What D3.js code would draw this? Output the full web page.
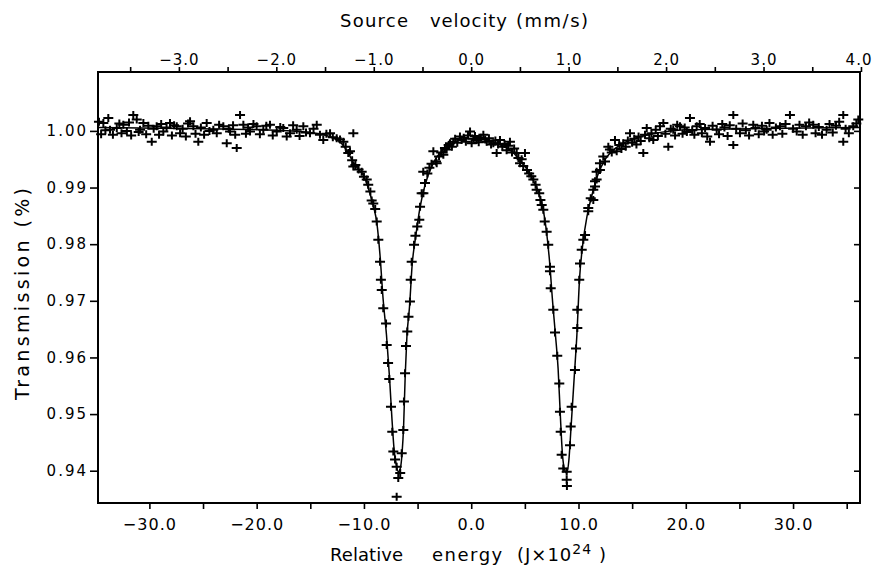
<!DOCTYPE html>
<html lang="en">
<head>
<meta charset="UTF-8">
<title>Transmission vs relative energy</title>
<style>
  body { margin: 0; background: #fff; }
  svg { display: block; font-family: "DejaVu Sans", sans-serif; }
</style>
</head>
<body>
<div id="chart"></div>
<script src="https://cdn.jsdelivr.net/npm/d3@7"></script>
<script>
// axis ticks
const energyTicks = [-30, -25, -20, -15, -10, -5, 0, 5, 10, 15, 20, 25, 30, 35];
const velocityTicks = [-3, -2, -1, 0, 1, 2, 3, 4];
const velocityMinor = [-3.5, -2.5, -1.5, -0.5, 0.5, 1.5, 2.5, 3.5];
const transTicks = [0.94, 0.95, 0.96, 0.97, 0.98, 0.99, 1.00];

const spectrum = [
  [-34.7,1.0016],[-34.5,0.9994],[-34.29,1.0014],[-34.1,1.0001],[-33.83,1.0023],[-33.67,1.0002],[-33.4,0.9993],[-33.04,1.0005],
  [-32.8,1.0013],[-32.6,0.9996],[-32.43,1.0011],[-32.1,1.0000],[-31.9,1.0015],[-31.7,0.9992],[-31.5,1.0028],[-31.18,1.0020],
  [-31.0,0.9998],[-30.87,1.0002],[-30.56,1.0014],[-30.3,0.9994],[-30.1,1.0009],[-29.78,0.9981],[-29.6,1.0004],[-29.32,1.0008],
  [-29.1,0.9993],[-28.9,1.0012],[-28.7,0.9999],[-28.4,1.0006],[-28.08,1.0014],[-27.9,0.9992],[-27.7,1.0010],[-27.45,1.0008],
  [-27.14,0.9996],[-26.9,1.0004],[-26.6,0.9990],[-26.4,1.0013],[-26.21,1.0017],[-25.9,1.0008],[-25.7,0.9995],[-25.44,0.9981],
  [-25.2,1.0006],[-24.9,0.9993],[-24.66,1.0014],[-24.4,1.0000],[-24.04,1.0002],[-23.72,0.9996],[-23.5,1.0011],[-23.11,1.0008],
  [-22.79,0.9978],[-22.6,1.0004],[-22.48,0.9999],[-22.2,1.0010],[-22.0,0.9993],[-21.86,0.9970],[-21.55,1.0028],[-21.24,1.0011],
  [-21.0,0.9995],[-20.8,1.0006],[-20.62,0.9999],[-20.3,1.0012],[-20.0,1.0008],[-19.7,0.9994],[-19.38,1.0002],[-19.1,1.0009],
  [-18.76,1.0011],[-18.5,0.9992],[-18.13,0.9999],[-17.8,1.0007],[-17.52,1.0005],[-17.2,0.9990],[-16.89,0.9996],[-16.6,1.0010],
  [-16.27,1.0002],[-16.0,0.9991],[-15.65,1.0008],[-15.4,0.9997],[-15.03,0.9996],[-14.7,1.0004],[-14.4,1.0011],[-14.1,0.9993],
  [-13.79,0.9984],[-13.5,0.9995],[-13.16,0.9996],[-12.9,0.9989],[-12.54,0.9987],[-12.23,0.9985],[-11.92,0.9981],[-10.99,0.9996],
  [-11.7,0.9972],[-11.46,0.9961],[-11.3,0.9964],[-11.1,0.9948],[-10.99,0.9937],[-10.8,0.9940],[-10.5,0.9932],[-10.21,0.9928],
  [-10.0,0.9919],[-9.74,0.9914],[-9.6,0.9905],[-9.4,0.9893],[-9.28,0.9877],[-9.13,0.9872],[-8.95,0.9862],[-8.81,0.9840],
  [-8.66,0.9808],[-8.50,0.9769],[-8.42,0.9737],[-8.34,0.9719],[-8.20,0.9687],[-7.94,0.9660],[-7.88,0.9622],[-7.75,0.9590],
  [-7.64,0.9562],[-7.48,0.9513],[-7.36,0.9469],[-7.26,0.9434],[-7.10,0.9420],[-6.95,0.9407],[-6.80,0.9387],[-6.95,0.9354],
  [-6.62,0.9396],[-6.48,0.9431],[-6.33,0.9472],[-6.27,0.9522],[-6.17,0.9572],[-6.08,0.9620],[-5.96,0.9646],[-5.85,0.9672],
  [-5.71,0.9699],[-5.64,0.9737],[-5.55,0.9769],[-5.33,0.9799],[-5.20,0.9815],[-5.03,0.9831],[-4.84,0.9843],[-4.77,0.9866],
  [-4.62,0.9890],[-4.46,0.9890],[-4.31,0.9908],[-4.47,0.9928],[-4.09,0.9925],[-3.90,0.9935],[-3.70,0.9942],[-3.53,0.9964],
  [-3.28,0.9946],[-3.22,0.9943],[-3.0,0.9955],[-2.8,0.9962],[-2.6,0.9958],[-2.45,0.9970],[-2.29,0.9967],[-2.1,0.9975],
  [-1.98,0.9978],[-1.8,0.9972],[-1.67,0.9981],[-1.5,0.9986],[-1.3,0.9979],[-1.05,0.9990],[-0.9,0.9984],[-0.7,0.9988],
  [-0.5,0.9981],[-0.3,0.9992],[-0.11,0.9999],[0.04,0.9978],[0.2,0.9986],[0.35,0.9991],[0.51,0.9984],[0.7,0.9980],
  [0.9,0.9988],[1.13,0.9993],[1.3,0.9985],[1.44,0.9981],[1.65,0.9987],[1.85,0.9976],[2.06,0.9978],[2.25,0.9983],
  [2.37,0.9961],[2.5,0.9976],[2.68,0.9984],[2.9,0.9972],[3.1,0.9977],[3.3,0.9966],[3.45,0.9974],[3.61,0.9981],
  [3.8,0.9962],[4.0,0.9969],[4.24,0.9961],[4.4,0.9952],[4.55,0.9943],[4.7,0.9950],[4.85,0.9938],[5.01,0.9961],
  [5.2,0.9931],[5.4,0.9925],[5.6,0.9920],[5.79,0.9914],[6.0,0.9905],[6.10,0.9896],[6.34,0.9890],[6.45,0.9878],
  [6.57,0.9869],[6.72,0.9861],[6.85,0.9840],[7.03,0.9822],[7.18,0.9799],[7.34,0.9760],[7.34,0.9752],[7.41,0.9722],
  [7.65,0.9684],[7.81,0.9644],[8.02,0.9603],[8.21,0.9554],[8.27,0.9504],[8.34,0.9469],[8.43,0.9428],[8.58,0.9404],
  [8.90,0.9398],[8.90,0.9384],[8.92,0.9373],[9.21,0.9445],[9.27,0.9478],[9.36,0.9513],[9.67,0.9578],[9.77,0.9616],
  [9.89,0.9652],[9.89,0.9684],[10.07,0.9737],[10.14,0.9766],[10.30,0.9790],[10.45,0.9808],[10.61,0.9816],[10.91,0.9858],
  [10.91,0.9864],[11.14,0.9881],[11.38,0.9896],[11.38,0.9878],[11.54,0.9911],[11.54,0.9902],[11.69,0.9928],[11.69,0.9914],
  [12.00,0.9943],[12.00,0.9931],[12.31,0.9955],[12.47,0.9946],[12.78,0.9972],[12.93,0.9967],[13.1,0.9962],[13.40,0.9984],
  [13.56,0.9964],[13.8,0.9975],[14.0,0.9968],[14.17,0.9978],[14.4,0.9972],[14.6,0.9983],[14.8,0.9996],[15.0,0.9979],
  [15.2,0.9986],[15.4,0.9976],[15.6,0.9990],[15.8,0.9982],[16.04,0.9961],[16.2,0.9993],[16.36,1.0005],[16.6,0.9987],
  [16.8,0.9996],[16.97,0.9984],[17.2,1.0002],[17.4,0.9991],[17.6,1.0008],[17.91,1.0014],[18.1,0.9995],[18.37,0.9972],
  [18.6,1.0004],[18.83,1.0002],[19.0,0.9992],[19.2,1.0011],[19.46,1.0008],[19.7,0.9995],[19.9,1.0006],[20.1,0.9998],
  [20.39,1.0023],[20.6,1.0001],[20.8,0.9993],[21.02,1.0008],[21.3,1.0012],[21.5,0.9996],[21.8,1.0005],[22.0,0.9990],
  [22.26,0.9981],[22.5,1.0009],[22.88,1.0002],[23.1,0.9994],[23.4,1.0012],[23.6,1.0006],[23.9,0.9991],[24.1,1.0010],
  [24.43,1.0028],[24.43,0.9975],[24.7,1.0004],[25.05,0.9996],[25.3,1.0013],[25.6,1.0001],[25.9,0.9992],[26.29,1.0011],
  [26.5,1.0005],[26.8,0.9994],[27.1,1.0009],[27.3,0.9999],[27.54,1.0002],[27.8,1.0014],[28.1,0.9993],[28.4,1.0006],
  [28.78,1.0008],[29.0,0.9995],[29.3,1.0012],[29.71,1.0028],[30.0,1.0004],[30.34,0.9999],[30.6,1.0011],[30.9,0.9993],
  [31.2,1.0008],[31.5,1.0015],[31.88,1.0011],[32.1,0.9996],[32.4,1.0007],[32.7,0.9993],[33.13,1.0002],[33.4,1.0012],
  [33.7,0.9997],[34.0,1.0009],[34.3,1.0016],[34.68,0.9981],[34.68,1.0028],[34.9,1.0004],[35.2,0.9996],[35.61,1.0008],
  [35.9,1.0013],[36.08,1.0020]
];

// fitted curve
const fitCurve = [
  [-34.79,1.0006],[-25,1.0004],[-18,1.0001],[-15,0.9997],[-13.5,0.9992],[-12.5,0.9984],[-12,0.9976],[-11.5,0.9962],
  [-11,0.9945],[-10.5,0.9932],[-10,0.9920],[-9.5,0.9893],[-9.1,0.9866],[-8.8,0.9838],[-8.5,0.9780],[-8.2,0.9700],
  [-7.9,0.9640],[-7.6,0.9560],[-7.4,0.9495],[-7.2,0.9440],[-7.0,0.9412],[-6.8,0.9398],[-6.6,0.9405],[-6.45,0.9430],
  [-6.3,0.9480],[-6.15,0.9570],[-6.0,0.9635],[-5.75,0.9690],[-5.5,0.9765],[-5.2,0.9810],[-4.8,0.9862],[-4.3,0.9905],
  [-3.5,0.9945],[-2.5,0.9968],[-1.5,0.9980],[-0.5,0.9986],[0.5,0.9987],[1.5,0.9984],[2.5,0.9977],[3.5,0.9968],
  [4.5,0.9950],[5.2,0.9932],[5.8,0.9912],[6.3,0.9890],[6.7,0.9862],[7.0,0.9825],[7.3,0.9770],[7.6,0.9695],
  [7.85,0.9640],[8.1,0.9580],[8.3,0.9500],[8.5,0.9430],[8.7,0.9402],[8.9,0.9396],[9.1,0.9418],[9.3,0.9475],
  [9.6,0.9565],[9.85,0.9640],[10.1,0.9740],[10.4,0.9800],[10.8,0.9850],[11.3,0.9890],[11.8,0.9922],[12.5,0.9950],
  [13.5,0.9970],[15,0.9985],[17,0.9995],[20,1.0002],[36.24,1.0006]
];

const W = 873, H = 568;
const margin = { top: 72, right: 13, bottom: 65, left: 98 };

const x = d3.scaleLinear().domain([-34.79, 36.24]).range([margin.left, W - margin.right]);
const v = d3.scaleLinear().domain([-3.83, 3.99]).range([margin.left, W - margin.right]);
const y = d3.scaleLinear().domain([0.9343, 1.0104]).range([H - margin.bottom, margin.top]);

const svg = d3.select("#chart").append("svg")
    .attr("width", W)
    .attr("height", H);

const fmt1 = d3.format(".1f");

function styleAxis(g, size) {
    g.attr("font-family", "'DejaVu Sans', sans-serif")
        .attr("font-size", size);
    g.select(".domain").remove();
    g.selectAll(".tick line").attr("stroke", "#000").attr("stroke-width", 1.6);
    g.selectAll(".tick text").attr("fill", "#000");
}

// bottom: relative energy
svg.append("g")
    .attr("transform", `translate(0,${H - margin.bottom})`)
    .call(d3.axisBottom(x).tickValues(energyTicks).tickSize(6).tickPadding(10)
        .tickFormat(d => d % 10 === 0 ? fmt1(d) : ""))
    .call(g => styleAxis(g, 16))
    .call(g => g.selectAll(".tick text").style("letter-spacing", "1px"));

// top: source velocity
svg.append("g")
    .attr("transform", `translate(0,${margin.top})`)
    .call(d3.axisTop(v).tickValues(velocityTicks).tickSize(5).tickPadding(2).tickFormat(fmt1))
    .call(g => styleAxis(g, 15))
    .call(g => g.selectAll(".tick text").style("letter-spacing", "1px")
        .attr("text-anchor", d => d === 4 ? "end" : "middle")
        .attr("dx", d => d === 4 ? 11 : 0));

svg.append("g")
    .attr("transform", `translate(0,${margin.top})`)
    .call(d3.axisTop(v).tickValues(velocityMinor).tickSize(5).tickFormat(""))
    .call(g => styleAxis(g, 15));

// left: transmission
svg.append("g")
    .attr("transform", `translate(${margin.left},0)`)
    .call(d3.axisLeft(y).tickValues(transTicks).tickSize(8).tickPadding(2).tickFormat(d3.format(".2f")))
    .call(g => styleAxis(g, 15))
    .call(g => g.selectAll(".tick text").style("letter-spacing", "2px"));

// right: inward ticks only
svg.append("g")
    .attr("transform", `translate(${W - margin.right},0)`)
    .call(d3.axisRight(y).tickValues(transTicks).tickSize(-6).tickFormat(""))
    .call(g => styleAxis(g, 15));

// frame
svg.append("rect")
    .attr("x", margin.left)
    .attr("y", margin.top)
    .attr("width", W - margin.left - margin.right)
    .attr("height", H - margin.top - margin.bottom)
    .attr("fill", "none")
    .attr("stroke", "#000")
    .attr("stroke-width", 2);

svg.append("clipPath").attr("id", "plot-clip")
    .append("rect")
    .attr("x", margin.left).attr("y", margin.top)
    .attr("width", W - margin.left - margin.right)
    .attr("height", H - margin.top - margin.bottom);

// fitted line
const line = d3.line()
    .x(d => x(d[0]))
    .y(d => y(d[1]))
    .curve(d3.curveMonotoneX);

svg.append("path")
    .datum(fitCurve)
    .attr("clip-path", "url(#plot-clip)")
    .attr("fill", "none")
    .attr("stroke", "#000")
    .attr("stroke-width", 1.5)
    .attr("d", line);

// + markers
svg.append("g")
    .selectAll("path")
    .data(spectrum)
    .enter()
    .append("path")
    .attr("transform", d => `translate(${x(d[0])},${y(d[1])})`)
    .attr("d", "M-5,0H5M0,-4V4")
    .attr("stroke", "#000")
    .attr("stroke-width", 2)
    .attr("fill", "none");

// titles
const title = (txt, tx, ty, len) => {
    const t = svg.append("text")
        .attr("x", tx).attr("y", ty)
        .attr("font-size", 18)
        .text(txt);
    if (len) t.attr("textLength", len).attr("lengthAdjust", "spacing");
    else t.style("letter-spacing", "1.5px");
    return t;
};

title("Source", 340, 27, 68);
title("velocity", 430, 27, 77);
title("(mm/s)", 516, 27);

title("Relative", 330, 561, 73);
title("energy", 432, 561);

const unit = svg.append("text")
    .attr("x", 517).attr("y", 561)
    .attr("font-size", 18)
    .style("letter-spacing", "1px");
unit.append("tspan").text("(J\u00d710");
unit.append("tspan").attr("dy", -7).attr("font-size", 14).text("24");
unit.append("tspan").attr("dy", 7).text(" )");

svg.append("text")
    .attr("transform", "translate(29,400) rotate(-90)")
    .attr("font-size", 19)
    .attr("textLength", 212)
    .attr("lengthAdjust", "spacing")
    .text("Transmission (%)");
</script>
</body>
</html>
